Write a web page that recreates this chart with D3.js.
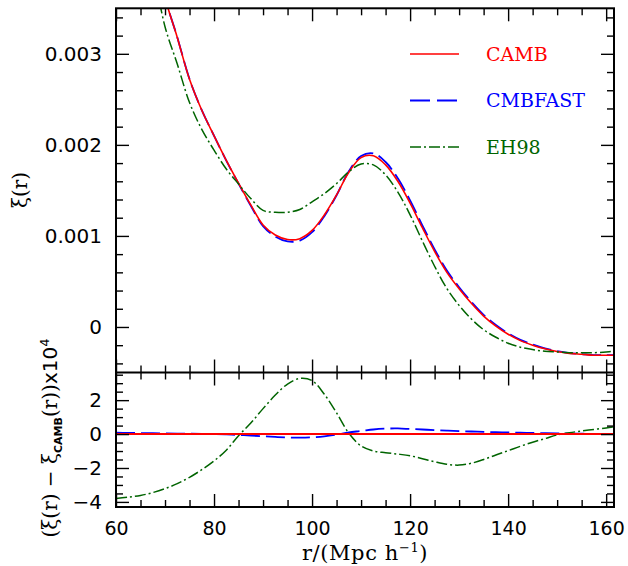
<!DOCTYPE html>
<html>
<head>
<meta charset="utf-8">
<script src="https://cdn.jsdelivr.net/npm/d3@7"></script>
<style>
  html, body { margin: 0; padding: 0; background: #fff; }
  svg { display: block; }
  .tick text { font-family: "DejaVu Sans", sans-serif; fill: #000; }
</style>
</head>
<body>
<svg id="chart" width="628" height="566"></svg>
<script>
// Separation r in Mpc/h
const rValues = [60, 62.5, 65, 67.5, 70, 72.5, 75, 77.5, 80, 82.5, 85, 87.5, 90, 92.5, 95, 97.5,
  100, 102.5, 105, 107.5, 110, 112.5, 115, 117.5, 120, 122.5, 125, 127.5, 130, 132.5, 135, 137.5,
  140, 142.5, 145, 147.5, 150, 152.5, 155, 157.5, 160, 161.6];

// Correlation function xi(r)
const xiCAMB = [0.0064, 0.0056, 0.0049, 0.0043, 0.00362, 0.00318, 0.00272, 0.00238, 0.00210, 0.00183,
  0.00158, 0.00134, 0.00112, 0.00101, 0.00096, 0.00097, 0.00106, 0.00123, 0.00145, 0.00170,
  0.00186, 0.00188, 0.00178, 0.00160, 0.00136, 0.00109, 0.00083, 0.00060, 0.00042, 0.00026,
  0.00012, 0.00001, -0.00008, -0.00015, -0.00020, -0.00024, -0.00027, -0.00029, -0.00030,
  -0.00031, -0.00031, -0.00031];

const xiCMBFAST = [0.006408, 0.005607, 0.004906, 0.004305, 0.003624, 0.003183, 0.002722, 0.002381,
  0.0021, 0.001828, 0.001575, 0.001331, 0.001107, 0.000993, 0.00094, 0.000949, 0.001041, 0.001217,
  0.001447, 0.00171, 0.001878, 0.001907, 0.001812, 0.001633, 0.00139, 0.001117, 0.000853, 0.00062,
  0.000437, 0.000275, 0.000133, 0.000021, -0.00007, -0.000142, -0.000193, -0.000235, -0.000266,
  -0.000287, -0.000298, -0.000309, -0.000309, -0.00031];

const xiEH98 = [0.00602, 0.005228, 0.004538, 0.003955, 0.003298, 0.002888, 0.002465, 0.00217,
  0.001942, 0.001735, 0.00157, 0.00141, 0.00128, 0.00126, 0.00126, 0.00129, 0.001375, 0.001465,
  0.001575, 0.001705, 0.00179, 0.00178, 0.00167, 0.001482, 0.001232, 0.000945, 0.000667, 0.000422,
  0.000237, 0.000088, -0.00003, -0.000113, -0.000178, -0.000222, -0.000248, -0.000267, -0.000275,
  -0.000282, -0.000282, -0.000283, -0.000274, -0.000268];

// Residuals relative to CAMB, in units of 1e-4
const diffCAMB = [0, 0, 0, 0, 0, 0, 0, 0, 0, 0, 0, 0, 0, 0, 0, 0, 0, 0, 0, 0, 0,
  0, 0, 0, 0, 0, 0, 0, 0, 0, 0, 0, 0, 0, 0, 0, 0, 0, 0, 0, 0, 0];

const diffCMBFAST = [0.08, 0.07, 0.06, 0.05, 0.04, 0.03, 0.02, 0.01, 0.0, -0.02, -0.05, -0.09, -0.13,
  -0.17, -0.2, -0.21, -0.19, -0.13, -0.03, 0.1, 0.18, 0.27, 0.32, 0.33, 0.30, 0.27, 0.23, 0.20,
  0.17, 0.15, 0.13, 0.11, 0.10, 0.08, 0.07, 0.05, 0.04, 0.03, 0.02, 0.01, 0.01, 0.0];

const diffEH98 = [-3.80, -3.72, -3.62, -3.45, -3.22, -2.92, -2.55, -2.10, -1.58, -0.95, -0.10, 0.65,
  1.50, 2.30, 2.95, 3.28, 3.15, 2.35, 1.25, 0.05, -0.70, -1.00, -1.10, -1.18, -1.28, -1.45, -1.63,
  -1.78, -1.83, -1.72, -1.50, -1.23, -0.98, -0.72, -0.48, -0.27, -0.05, 0.08, 0.18, 0.27, 0.36, 0.42];

// Axis ticks
const xMajorTicks = [60, 80, 100, 120, 140, 160];
const xMinorTicks = [65, 70, 75, 85, 90, 95, 105, 110, 115, 125, 130, 135, 145, 150, 155];
const yTopMajorTicks = [0, 0.001, 0.002, 0.003];
const yTopTickLabels = ["0", "0.001", "0.002", "0.003"];
const yTopMinorTicks = [-0.0004, -0.0002, 0.0002, 0.0004, 0.0006, 0.0008, 0.0012, 0.0014, 0.0016,
  0.0018, 0.0022, 0.0024, 0.0026, 0.0028, 0.0032, 0.0034];
const yBotMajorTicks = [-4, -2, 0, 2];
const yBotTickLabels = ["\u22124", "\u22122", "0", "2"];
const yBotMinorTicks = [-3.5, -3, -2.5, -1.5, -1, -0.5, 0.5, 1, 1.5, 2.5, 3, 3.5];

const seriesNames = ["CAMB", "CMBFAST", "EH98"];
const seriesColors = ["#ff0000", "#0000ff", "#006400"];
const seriesDash = [null, "19,6", "11,3,2,3"];
const seriesWidth = [1.6, 1.8, 1.5];

// Layout
const plotLeft = 116, plotRight = 614, plotTop = 8.3, plotMid = 372.5, plotBottom = 507;
const svg = d3.select("#chart");

const x = d3.scaleLinear().domain([60, 161.6]).range([plotLeft, plotRight]);
const yTop = d3.scaleLinear().domain([-0.0005, 0.0035]).range([plotMid, plotTop]);
const yBot = d3.scaleLinear().domain([-4.3, 3.63]).range([plotBottom, plotMid]);

const defs = svg.append("defs");
defs.append("clipPath").attr("id", "clipTop").append("rect")
  .attr("x", plotLeft).attr("y", plotTop).attr("width", plotRight - plotLeft).attr("height", plotMid - plotTop);
defs.append("clipPath").attr("id", "clipBot").append("rect")
  .attr("x", plotLeft).attr("y", plotMid).attr("width", plotRight - plotLeft).attr("height", plotBottom - plotMid);

function lineFor(yScale) {
  return d3.line().x((d, i) => x(rValues[i])).y(d => yScale(d)).curve(d3.curveCatmullRom.alpha(0.5));
}

// Curves: CMBFAST first so CAMB sits over it, EH98 last
const topSeries = [xiCAMB, xiCMBFAST, xiEH98];
const botSeries = [diffCAMB, diffCMBFAST, diffEH98];

const gTop = svg.append("g").attr("clip-path", "url(#clipTop)");
const gBot = svg.append("g").attr("clip-path", "url(#clipBot)");
[1, 0, 2].forEach(k => {
  gTop.append("path").datum(topSeries[k]).attr("d", lineFor(yTop))
    .attr("fill", "none").attr("stroke", seriesColors[k]).attr("stroke-width", seriesWidth[k])
    .attr("stroke-dasharray", seriesDash[k]);
});
[1, 2, 0].forEach(k => {
  gBot.append("path").datum(botSeries[k]).attr("d", lineFor(yBot))
    .attr("fill", "none").attr("stroke", seriesColors[k])
    .attr("stroke-width", k === 0 ? 2 : seriesWidth[k])
    .attr("stroke-dasharray", seriesDash[k]);
});

// Axes with inward ticks on all four sides of each panel
const MAJ = 13, MIN = 7;
function addAxis(axisGen, tx, ty) {
  const g = svg.append("g").attr("transform", `translate(${tx},${ty})`).call(axisGen);
  g.select(".domain").remove();
  g.selectAll(".tick line").attr("stroke", "#000").attr("stroke-width", 1.4);
  return g;
}

// x axes
addAxis(d3.axisBottom(x).tickValues(xMajorTicks).tickSize(-MAJ).tickPadding(14.5)
  .tickFormat(d => String(d)), 0, plotBottom)
  .selectAll("text").attr("font-size", 19);
[[d3.axisBottom, plotBottom], [d3.axisBottom, plotMid], [d3.axisTop, plotMid], [d3.axisTop, plotTop]].forEach(([fn, yy], i) => {
  if (i > 0) addAxis(fn(x).tickValues(xMajorTicks).tickSize(-MAJ).tickFormat(""), 0, yy);
  addAxis(fn(x).tickValues(xMinorTicks).tickSize(-MIN).tickFormat(""), 0, yy);
});

// top panel y axes
addAxis(d3.axisLeft(yTop).tickValues(yTopMajorTicks).tickSize(-MAJ).tickPadding(14)
  .tickFormat((d, i) => yTopTickLabels[i]), plotLeft, 0)
  .selectAll("text").attr("font-size", 20);
addAxis(d3.axisLeft(yTop).tickValues(yTopMinorTicks).tickSize(-MIN).tickFormat(""), plotLeft, 0);
addAxis(d3.axisRight(yTop).tickValues(yTopMajorTicks).tickSize(-MAJ).tickFormat(""), plotRight, 0);
addAxis(d3.axisRight(yTop).tickValues(yTopMinorTicks).tickSize(-MIN).tickFormat(""), plotRight, 0);

// bottom panel y axes
addAxis(d3.axisLeft(yBot).tickValues(yBotMajorTicks).tickSize(-MAJ).tickPadding(14)
  .tickFormat((d, i) => yBotTickLabels[i]), plotLeft, 0)
  .selectAll("text").attr("font-size", 20);
addAxis(d3.axisLeft(yBot).tickValues(yBotMinorTicks).tickSize(-MIN).tickFormat(""), plotLeft, 0);
addAxis(d3.axisRight(yBot).tickValues(yBotMajorTicks).tickSize(-MAJ).tickFormat(""), plotRight, 0);
addAxis(d3.axisRight(yBot).tickValues(yBotMinorTicks).tickSize(-MIN).tickFormat(""), plotRight, 0);

// Panel frames
svg.append("rect").attr("x", plotLeft).attr("y", plotTop).attr("width", plotRight - plotLeft)
  .attr("height", plotBottom - plotTop)
  .attr("fill", "none").attr("stroke", "#000").attr("stroke-width", 2);
svg.append("line").attr("x1", plotLeft).attr("x2", plotRight).attr("y1", plotMid).attr("y2", plotMid)
  .attr("stroke", "#000").attr("stroke-width", 2);

// Legend
const legend = svg.append("g");
seriesNames.forEach((name, k) => {
  const ly = 54 + k * 46.5;
  legend.append("line").attr("x1", 410).attr("x2", 459).attr("y1", ly).attr("y2", ly)
    .attr("stroke", seriesColors[k]).attr("stroke-width", seriesWidth[k])
    .attr("stroke-dasharray", k === 1 ? "20,7" : seriesDash[k]);
  legend.append("text").attr("x", 486).attr("y", ly + 6.5)
    .attr("font-family", "DejaVu Serif, serif").attr("font-size", 19)
    .attr("fill", seriesColors[k]).text(name);
});

// Axis titles
const serif = "DejaVu Serif, serif";
const xt = svg.append("text").attr("x", 365).attr("y", 560).attr("text-anchor", "middle")
  .attr("font-family", serif).attr("font-size", 21).attr("letter-spacing", 0.6).attr("fill", "#000");
xt.append("tspan").text("r/(Mpc h");
xt.append("tspan").attr("font-size", 13).attr("dy", -8).text("\u22121");
xt.append("tspan").attr("dy", 8).text(")");

svg.append("text").attr("transform", "translate(27,190) rotate(-90)").attr("text-anchor", "middle")
  .attr("font-family", serif).attr("font-size", 20).attr("fill", "#000").text("\u03be(r)");

const yt = svg.append("text").attr("transform", "translate(57,438) rotate(-90)").attr("text-anchor", "middle")
  .attr("font-family", serif).attr("font-size", 20).attr("fill", "#000");
yt.append("tspan").text("(\u03be(r) \u2212 \u03be");
yt.append("tspan").attr("font-family", "DejaVu Sans, sans-serif").attr("font-weight", "bold")
  .attr("font-size", 11).attr("dy", 5).text("CAMB");
yt.append("tspan").attr("dy", -5).text("(r))");
yt.append("tspan").attr("font-family", "DejaVu Sans, sans-serif").text("x10");
yt.append("tspan").attr("font-family", "DejaVu Sans, sans-serif").attr("font-size", 13)
  .attr("dy", -8).text("4");
</script>
</body>
</html>
